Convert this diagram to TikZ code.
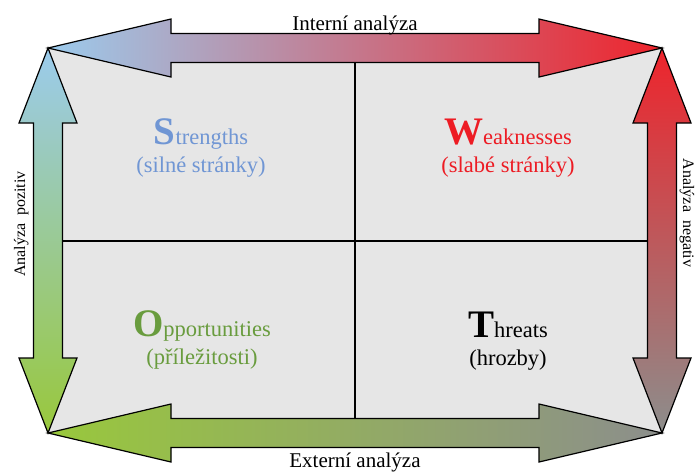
\documentclass[tikz,border=0pt]{standalone}
\usepackage{fontspec}
\setmainfont{Liberation Serif}
\usetikzlibrary{positioning,calc}

\definecolor{swblue}{RGB}{155,203,237}
\definecolor{swpink}{RGB}{212,150,192}
\definecolor{swred}{RGB}{238,36,44}
\definecolor{swrose}{RGB}{200,105,112}
\definecolor{swgreen}{RGB}{153,200,60}
\definecolor{swteal}{RGB}{150,200,170}
\definecolor{swgray}{RGB}{140,142,140}
\definecolor{swolive}{RGB}{140,172,105}
\definecolor{swfill}{RGB}{230,230,230}
\definecolor{strtext}{RGB}{112,150,212}
\definecolor{weaktext}{RGB}{237,28,36}
\definecolor{opptext}{RGB}{105,156,62}

\tikzset{
  bigarrow/.style={draw=black, line width=1.2pt, line join=miter},
  divider/.style={draw=black, line width=1.4pt},
  maintitle/.style={font=\fontsize{21}{23}\selectfont, anchor=base},
  sidetitle/.style={font=\fontsize{16}{18}\selectfont, anchor=base},
  quadtext/.style={font=\fontsize{22.5}{25}\selectfont, anchor=base},
}
\newcommand{\bigini}[1]{{\fontsize{39}{39}\selectfont\bfseries #1}}

\begin{document}
\begin{tikzpicture}[x=1pt,y=-1pt]
            \useasboundingbox (0,0) rectangle (696,472);
            \coordinate (tl) at (48,48);
            \coordinate (tr) at (662,48);
            \coordinate (bl) at (48,433);
            \coordinate (br) at (662,433);
            \coordinate (mt) at (355,62);
            \coordinate (mb) at (355,418);
            \coordinate (ml) at (62,241);
            \coordinate (mr) at (649,241);
            % background and quadrants
            \fill[swfill] (tl) rectangle (br);
            \draw[divider] (mt) -- (mb);
            \draw[divider] (ml) -- (mr);
            % top arrow
            \shadedraw[bigarrow, left color=swblue, middle color=swpink, right color=swred]
              (tl) -- ++(123,-29) -- ++(0,14.5) -- ++(368,0) -- ++(0,-14.5)
              -- (tr) -- ++(-123,29) -- ++(0,-14.5) -- ++(-368,0) -- ++(0,14.5) -- cycle;
            % bottom arrow
            \shadedraw[bigarrow, left color=swgreen, middle color=swolive, right color=swgray]
              (bl) -- ++(123,-29) -- ++(0,14.5) -- ++(368,0) -- ++(0,-14.5)
              -- (br) -- ++(-123,29) -- ++(0,-14.5) -- ++(-368,0) -- ++(0,14.5) -- cycle;
            % left arrow
            \shadedraw[bigarrow, top color=swblue, middle color=swteal, bottom color=swgreen]
              (tl) -- ++(29,75) -- ++(-14.5,0) -- ++(0,235) -- ++(14.5,0)
              -- (bl) -- ++(-29,-75) -- ++(14.5,0) -- ++(0,-235) -- ++(-14.5,0) -- cycle;
            % right arrow
            \shadedraw[bigarrow, top color=swred, middle color=swrose, bottom color=swgray]
              (tr) -- ++(29,75) -- ++(-14.5,0) -- ++(0,235) -- ++(14.5,0)
              -- (br) -- ++(-29,-75) -- ++(14.5,0) -- ++(0,-235) -- ++(-14.5,0) -- cycle;
            % arrow labels
            \node[maintitle] (intern) at (355,30.5) {Interní analýza};
            \node[maintitle] (extern) at (355,467) {Externí analýza};
            \node[sidetitle, rotate=90] (pozitiv) at (25,224) {Analýza\ \ pozitiv};
            \node[sidetitle, rotate=-90] (negativ) at (683,213) {Analýza\ \ negativ};
            % quadrant texts
            \node[quadtext, text=strtext] (str) at (201,144) {\bigini{S}trengths};
            \node[quadtext, text=strtext] (strcz) at (201,172) {(silné stránky)};
            \node[quadtext, text=weaktext] (weak) at (508,144) {\bigini{W}eaknesses};
            \node[quadtext, text=weaktext] (weakcz) at (508,172) {(slabé stránky)};
            \node[quadtext, text=opptext] (opp) at (202,336) {\bigini{O}pportunities};
            \node[quadtext, text=opptext] (oppcz) at (202,364) {(příležitosti)};
            \node[quadtext] (thr) at (508,337) {\bigini{T}hreats};
            \node[quadtext] (thrcz) at (508,365) {(hrozby)};
\end{tikzpicture}
\end{document}
